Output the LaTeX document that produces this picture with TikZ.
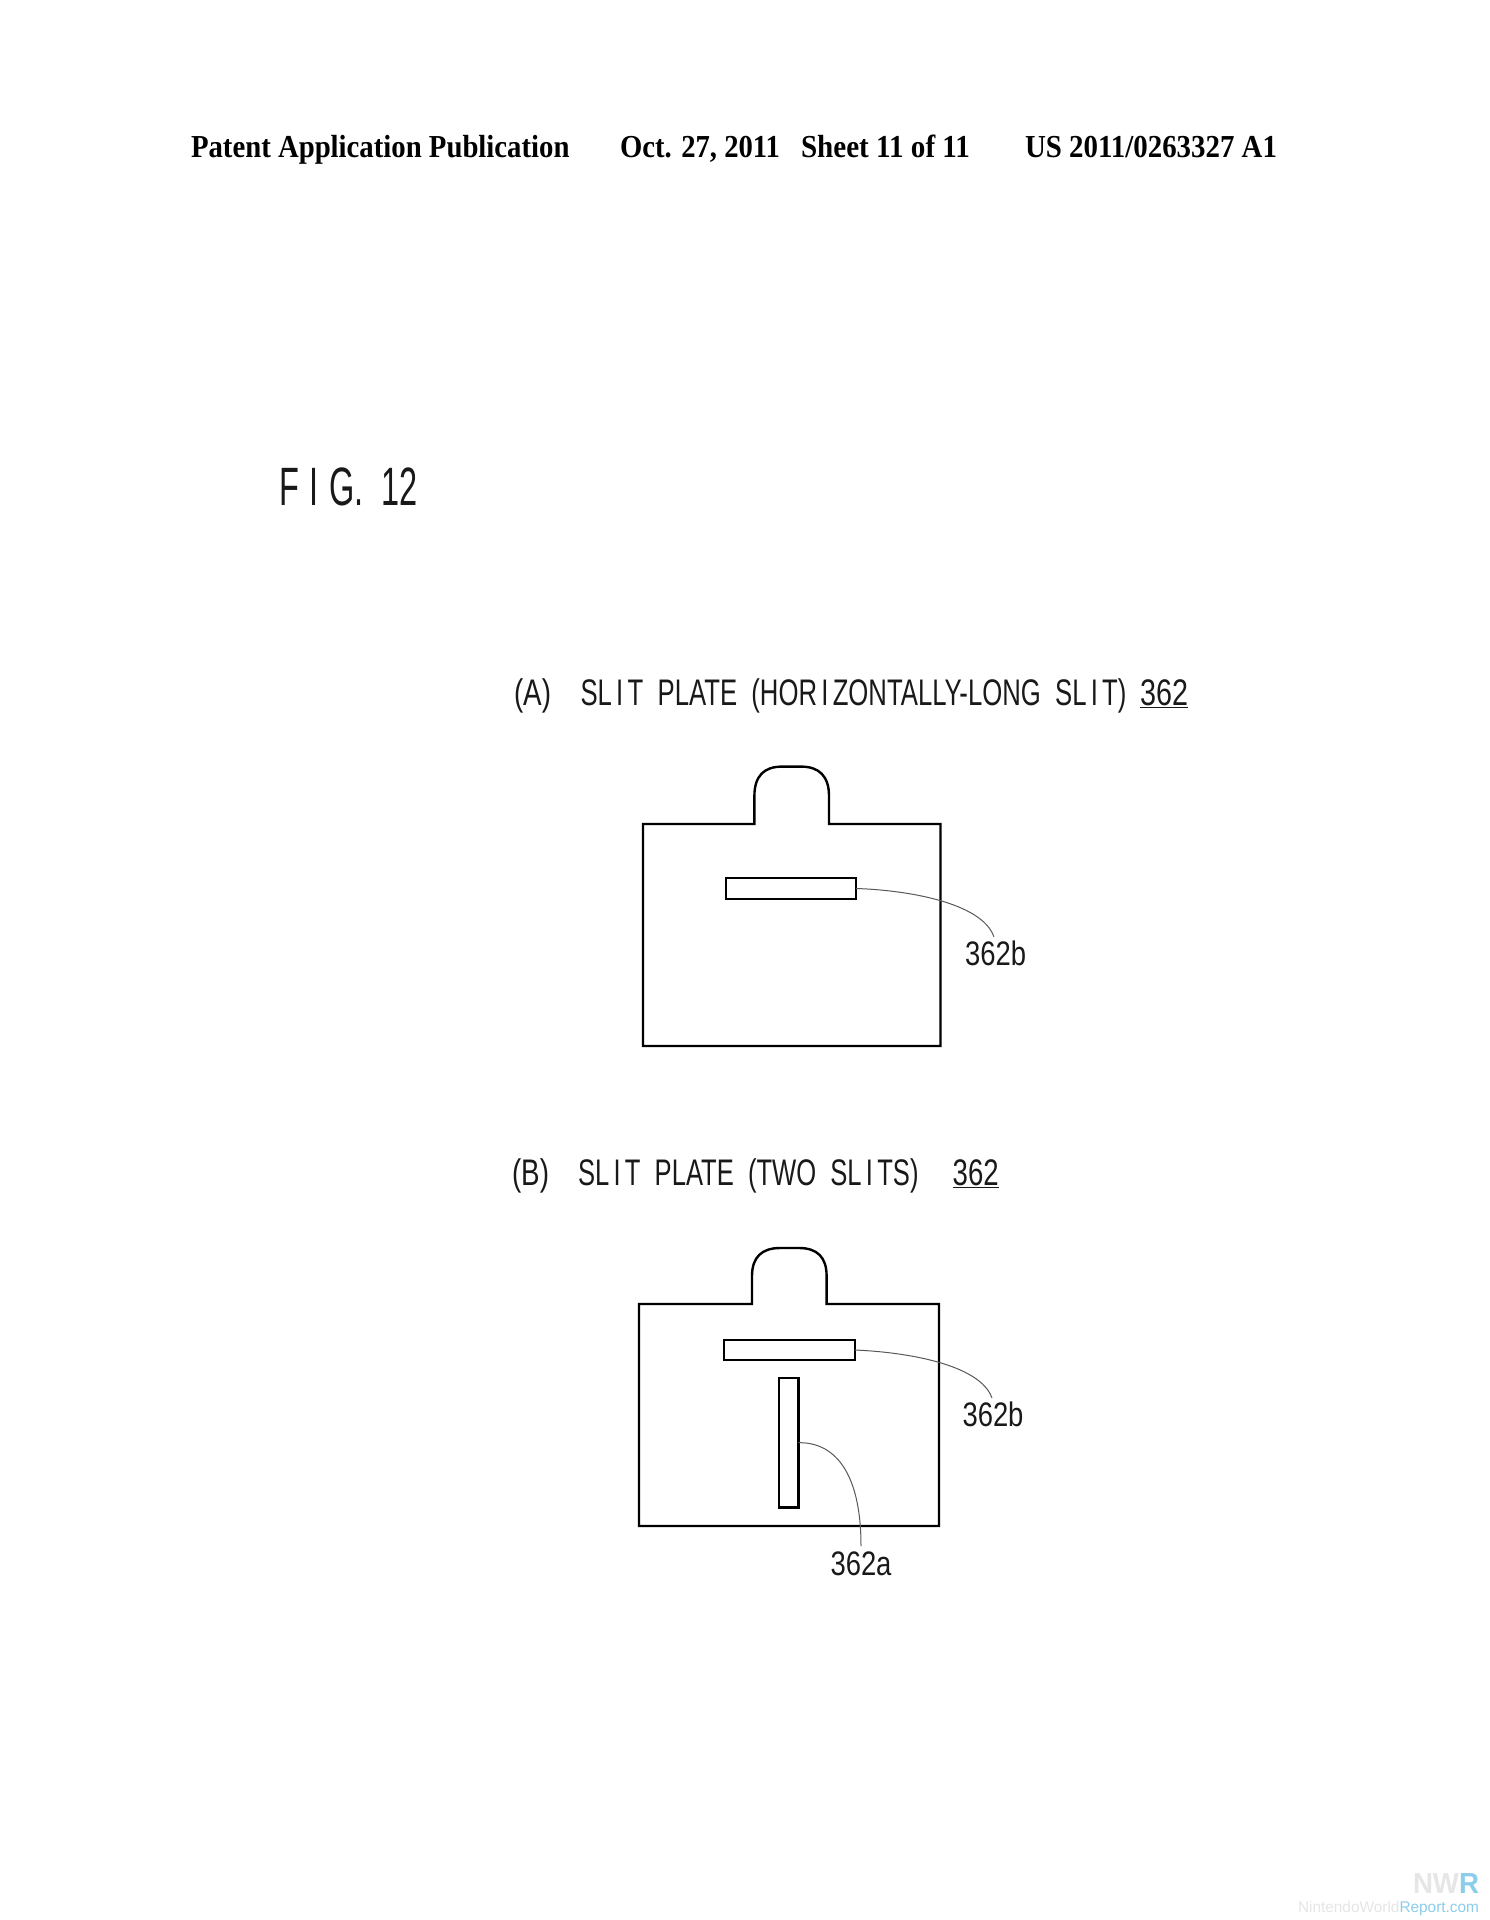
\documentclass[tikz,border=0pt]{standalone}
\usepackage{fontspec}
\usepackage{graphicx}
\setmainfont{Liberation Serif}
\newfontfamily\labfont{Liberation Sans}
\newcommand{\fitw}[2]{\resizebox{#1pt}{\height}{#2}}
\definecolor{nwrgrey}{HTML}{E6E6E6}
\definecolor{nwrblue}{HTML}{8CCDEC}
\tikzset{
  every node/.style={inner sep=0pt,outer sep=0pt},
  head/.style={anchor=base west,font=\fontsize{32}{32}\selectfont\bfseries},
  lab/.style={anchor=base west,font=\fontsize{37}{37}\selectfont\labfont,text=black!90},
  refnum/.style={anchor=base,font=\fontsize{34}{34}\selectfont\labfont,text=black!90},
  plate/.style={draw=black,line width=2.4pt,line join=miter},
  slit/.style={draw=black,line width=2.2pt,fill=white,rectangle},
  leader/.style={draw=black!65,line width=1pt},
}
\begin{document}
\begin{tikzpicture}[x=1pt,y=-1pt]
\useasboundingbox (0,0) rectangle (1489,1920);
\fill[white] (0,0) rectangle (1489,1920);
% header
\node[head] (h1) at (191,157) {\fitw{378.5}{Patent Application Publication}};
\node[head] (h2) at (620,157) {\fitw{160}{Oct. 27, 2011}};
\node[head] (h3) at (801,157) {\fitw{169}{Sheet 11 of 11}};
\node[head] (h4) at (1025,157) {\fitw{252}{US 2011/0263327 A1}};
% figure title
\node[lab,font=\fontsize{54}{54}\selectfont\labfont] (fig) at (279,505) {\fitw{139}{F\,\,I\,\,G.\ \ 12}};
% (A)
\node[lab] (ta1) at (514,705) {\fitw{37}{(A)}};
\node[lab] (ta2) at (580.5,705) {\fitw{546}{SL\,I\,T\ \ PLATE\ \ (HOR\,I\,ZONTALLY-LONG\ \ SL\,I\,T)}};
\node[lab] (ta3) at (1140,705) {\fitw{48}{\underline{362}}};
\draw[plate] (643,824) -- (754.4,824) -- (754.4,796) .. controls (754.4,776) and (764,766.6) .. (782,766.6)
  -- (801,766.6) .. controls (819,766.6) and (829,776) .. (829,796) -- (829,824) -- (940.5,824)
  -- (940.5,1046) -- (643,1046) -- cycle;
\node[slit,minimum width=130pt,minimum height=21pt] (sa) at (791,888.5) {};
\node[refnum] (la) at (995.6,965) {\fitw{61}{362b}};
\coordinate (laN) at (994,937);
\draw[leader] (sa.east) .. controls (905,890) and (982,902) .. (laN);
% (B)
\node[lab] (tb1) at (512,1185) {\fitw{37}{(B)}};
\node[lab] (tb2) at (578,1185) {\fitw{340.5}{SL\,I\,T\ \ PLATE\ \ (TWO\ \ SL\,I\,TS)}};
\node[lab] (tb3) at (952.7,1185) {\fitw{46}{\underline{362}}};
\draw[plate] (639,1304) -- (752,1304) -- (752,1276) .. controls (752,1257) and (762,1248) .. (780,1248)
  -- (799,1248) .. controls (817,1248) and (826.6,1257) .. (826.6,1276) -- (826.6,1304) -- (939,1304)
  -- (939,1526) -- (639,1526) -- cycle;
\node[slit,minimum width=131pt,minimum height=20.5pt] (sb) at (789.2,1350) {};
\node[slit,minimum width=19.5pt,minimum height=129.5pt] (sc) at (788.7,1442.7) {};
\node[refnum] (lb) at (993,1426.6) {\fitw{61}{362b}};
\coordinate (lbN) at (992,1398);
\draw[leader] (sb.east) .. controls (905,1352) and (980,1364) .. (lbN);
\node[refnum] (lc) at (861,1575) {\fitw{61}{362a}};
\coordinate (lcN) at (861,1546);
\draw[leader] (sc.east) .. controls (833,1442) and (861,1470) .. (lcN);
% watermark
\node[anchor=base west,font=\fontsize{29}{29}\selectfont\bfseries\labfont,text=nwrgrey] (w1) at (1413,1893) {\fitw{66}{NW\textcolor{nwrblue}{R}}};
\node[anchor=base west,font=\fontsize{15.5}{15.5}\selectfont\labfont,text=nwrgrey] (w2) at (1298,1912) {\fitw{181}{NintendoWorld\textcolor{nwrblue}{Report.com}}};
\end{tikzpicture}
\end{document}
